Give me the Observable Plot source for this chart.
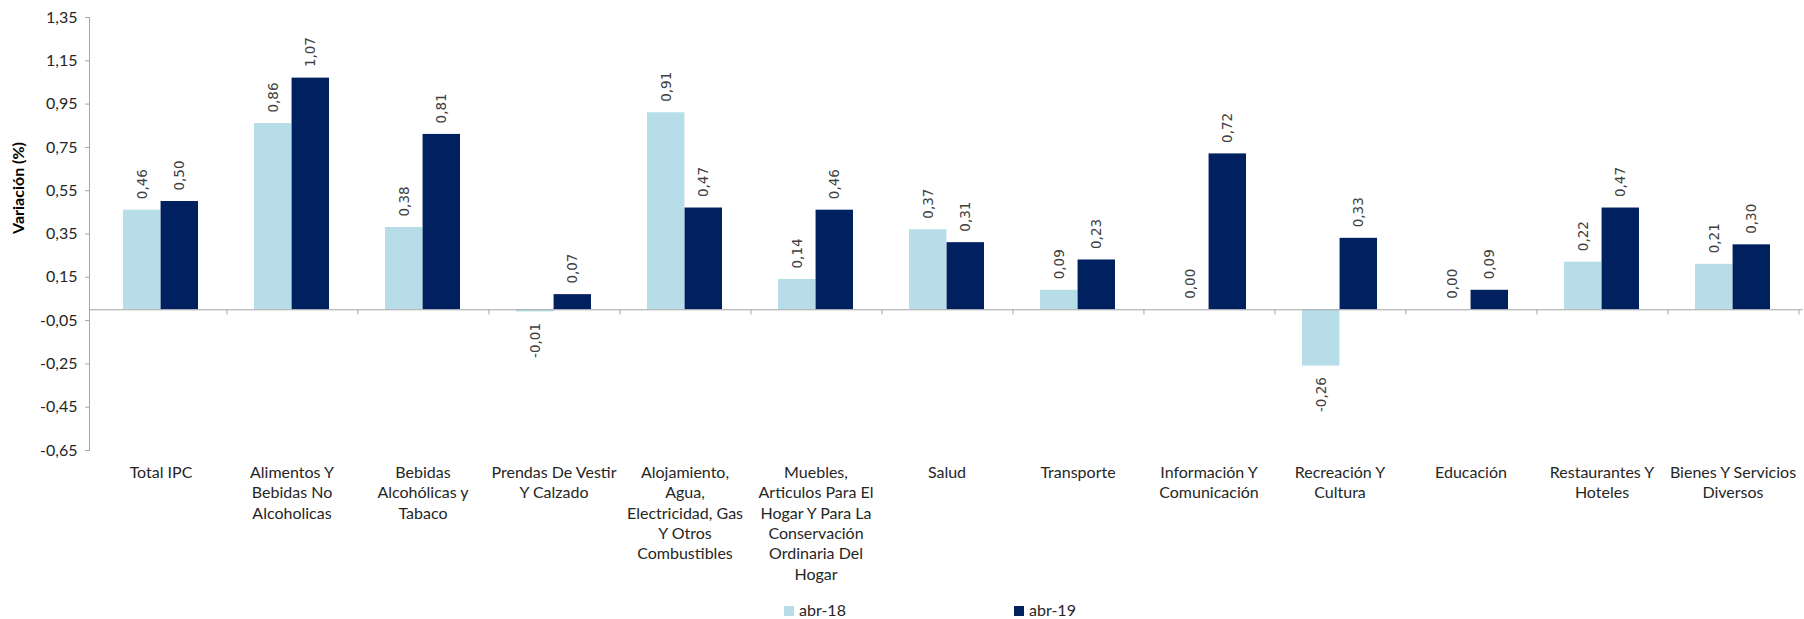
<!DOCTYPE html>
<html>
<head>
<meta charset="utf-8">
<script src="https://cdn.jsdelivr.net/npm/d3@7"></script>
<script src="https://cdn.jsdelivr.net/npm/@observablehq/plot@0.6"></script>
<style>
  html, body { margin: 0; padding: 0; background: #fff; }
  #wrap { position: relative; width: 1804px; height: 619px; overflow: hidden; }
  #legend { position: absolute; top: 602px; left: 0; width: 1804px; height: 16px;
            font-family: Lato, "Open Sans", sans-serif; font-size: 16px; color: #262626; }
  .item { position: absolute; top: 0; height: 16px; line-height: 16px; white-space: nowrap; }
  .sw { display: inline-block; width: 10px; height: 10px; margin-right: 5px; vertical-align: 0px; }
</style>
</head>
<body>
<div id="wrap"><div id="chart"></div><div id="legend"></div></div>
<script>
const categories = [
  "Total IPC",
  "Alimentos Y Bebidas No Alcoholicas",
  "Bebidas Alcohólicas y Tabaco",
  "Prendas De Vestir Y Calzado",
  "Alojamiento, Agua, Electricidad, Gas Y Otros Combustibles",
  "Muebles, Articulos Para El Hogar Y Para La Conservación Ordinaria Del Hogar",
  "Salud",
  "Transporte",
  "Información Y Comunicación",
  "Recreación Y Cultura",
  "Educación",
  "Restaurantes Y Hoteles",
  "Bienes Y Servicios Diversos"
];
const tickLabels = [
  "Total IPC",
  "Alimentos Y\nBebidas No\nAlcoholicas",
  "Bebidas\nAlcohólicas y\nTabaco",
  "Prendas De Vestir\nY Calzado",
  "Alojamiento,\nAgua,\nElectricidad, Gas\nY Otros\nCombustibles",
  "Muebles,\nArticulos Para El\nHogar Y Para La\nConservación\nOrdinaria Del\nHogar",
  "Salud",
  "Transporte",
  "Información Y\nComunicación",
  "Recreación Y\nCultura",
  "Educación",
  "Restaurantes Y\nHoteles",
  "Bienes Y Servicios\nDiversos"
];
const seriesNames = ["abr-18", "abr-19"];
const seriesColors = ["#b7dde8", "#002060"];
const abr18 = [0.46, 0.86, 0.38, -0.01, 0.91, 0.14, 0.37, 0.09, 0.00, -0.26, 0.00, 0.22, 0.21];
const abr19 = [0.50, 1.07, 0.81, 0.07, 0.47, 0.46, 0.31, 0.23, 0.72, 0.33, 0.09, 0.47, 0.30];
const yTicks = [1.35, 1.15, 0.95, 0.75, 0.55, 0.35, 0.15, -0.05, -0.25, -0.45, -0.65];

const rows = [];
categories.forEach((c, i) => {
  rows.push({cat: c, series: seriesNames[0], value: abr18[i]});
  rows.push({cat: c, series: seriesNames[1], value: abr19[i]});
});
const labelOf = new Map(categories.map((c, i) => [c, tickLabels[i]]));
const fmt = v => d3.format(".2f")(v).replace(".", ",").replace("−", "-");

const W = 1804, H = 600, ML = 89, MR = 1, MT = 17, MB = 150;
const step = (W - ML - MR) / categories.length;
const padInner = 0.43;
const bw = step * (1 - padInner);
const half = bw / 2;

const s0 = rows.filter(d => d.series === seriesNames[0]);
const s1 = rows.filter(d => d.series === seriesNames[1]);
const grey = "#a6a6a6";
const labelFont = "'DejaVu Sans', sans-serif";
const lblSize = 13.5;

const chart = Plot.plot({
  width: W, height: H,
  marginLeft: ML, marginRight: MR, marginTop: MT, marginBottom: MB,
  style: {fontFamily: "Lato, 'Open Sans', sans-serif", fontSize: "16px", color: "#262626", background: "#fff"},
  x: {domain: categories, paddingInner: padInner, paddingOuter: padInner / 2, axis: null},
  y: {domain: [-0.65, 1.35], axis: null},
  marks: [
    Plot.barY(s0, {x: "cat", y: "value", fill: seriesColors[0], insetRight: half, insetLeft: 0}),
    Plot.barY(s1, {x: "cat", y: "value", fill: seriesColors[1], insetLeft: half, insetRight: 0}),
    Plot.ruleY([0], {stroke: grey, strokeWidth: 1}),
    Plot.ruleX(categories, {x: d => d, dx: step / 2, y1: 0, y2: -0.024, stroke: grey}),
    Plot.frame({anchor: "left", stroke: grey}),
    Plot.axisY({ticks: yTicks, tickFormat: fmt, tickSize: 4, tickPadding: 8, stroke: grey, label: null, fontSize: 16}),
    Plot.axisX({tickSize: 0, tickPadding: 13, tickFormat: d => labelOf.get(d), lineHeight: 1.27, label: null, fontSize: 16}),
    Plot.text(["Variación (%)"], {frameAnchor: "left", rotate: -90, dx: -71, fontWeight: "bold", fontSize: 16, fill: "#000"}),
    // value labels
    Plot.text(s0.filter(d => d.value >= 0), {x: "cat", y: "value", text: d => fmt(d.value), rotate: -90, textAnchor: "start", dx: -half / 2, dy: -11, fontFamily: labelFont, fontSize: lblSize, fill: "#404040"}),
    Plot.text(s1.filter(d => d.value >= 0), {x: "cat", y: "value", text: d => fmt(d.value), rotate: -90, textAnchor: "start", dx: half / 2, dy: -11, fontFamily: labelFont, fontSize: lblSize, fill: "#404040"}),
    Plot.text(s0.filter(d => d.value < 0), {x: "cat", y: "value", text: d => fmt(d.value), rotate: -90, textAnchor: "end", dx: -half / 2, dy: 11, fontFamily: labelFont, fontSize: lblSize, fill: "#404040"}),
    Plot.text(s1.filter(d => d.value < 0), {x: "cat", y: "value", text: d => fmt(d.value), rotate: -90, textAnchor: "end", dx: half / 2, dy: 11, fontFamily: labelFont, fontSize: lblSize, fill: "#404040"})
  ]
});
document.getElementById("chart").appendChild(chart);

const legend = document.getElementById("legend");
const legendX = [784, 1014];
seriesNames.forEach((name, i) => {
  const it = document.createElement("div");
  it.className = "item";
  it.style.left = legendX[i] + "px";
  const sw = document.createElement("span");
  sw.className = "sw";
  sw.style.background = seriesColors[i];
  it.appendChild(sw);
  it.appendChild(document.createTextNode(name));
  legend.appendChild(it);
});
</script>
</body>
</html>
